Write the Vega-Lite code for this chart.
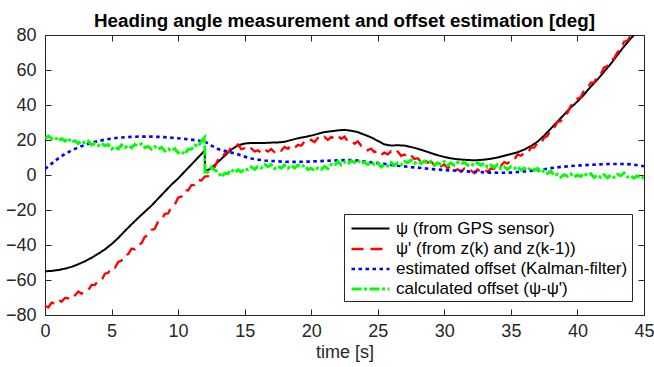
{
"$schema": "https://vega.github.io/schema/vega-lite/v6.json",
"width": 599, "height": 280,
"autosize": {"type": "none"},
"padding": {"left": 45, "top": 35, "right": 10, "bottom": 52},
"background": "white",
"config": {"view": {"stroke": null}, "font": "Liberation Sans"},
"title": {"text": "Heading angle measurement and offset estimation [deg]", "fontSize": 18.8, "fontWeight": "bold", "color": "#000000", "font": "Liberation Sans", "offset": -9, "anchor": "middle"},
"data": {"values": [
{"s":"a","t":0,"v":-55},{"s":"a","t":0.5,"v":-54.8},{"s":"a","t":1,"v":-54.3},{"s":"a","t":1.5,"v":-53.5},{"s":"a","t":2,"v":-52.5},{"s":"a","t":2.5,"v":-51},{"s":"a","t":3,"v":-49.3},{"s":"a","t":3.5,"v":-47.3},{"s":"a","t":4,"v":-45},{"s":"a","t":4.5,"v":-42.5},{"s":"a","t":5,"v":-39.5},{"s":"a","t":5.5,"v":-36},{"s":"a","t":6,"v":-32},{"s":"a","t":6.5,"v":-28.2},{"s":"a","t":7,"v":-24.5},{"s":"a","t":7.5,"v":-21},{"s":"a","t":8,"v":-17.5},{"s":"a","t":8.5,"v":-13.5},{"s":"a","t":9,"v":-9.5},{"s":"a","t":9.5,"v":-5.5},{"s":"a","t":10,"v":-2},{"s":"a","t":10.5,"v":2},{"s":"a","t":11,"v":6},{"s":"a","t":11.5,"v":10},{"s":"a","t":12,"v":14},{"s":"a","t":12.02,"v":2},{"s":"a","t":12.5,"v":4},{"s":"a","t":13,"v":7.5},{"s":"a","t":13.5,"v":11},{"s":"a","t":14,"v":14.5},{"s":"a","t":14.5,"v":17},{"s":"a","t":15,"v":18},{"s":"a","t":15.5,"v":18.3},{"s":"a","t":16,"v":18.3},{"s":"a","t":16.5,"v":18.3},{"s":"a","t":17,"v":18.5},{"s":"a","t":17.5,"v":18.6},{"s":"a","t":18,"v":19},{"s":"a","t":18.5,"v":20},{"s":"a","t":19,"v":21},{"s":"a","t":19.5,"v":21.7},{"s":"a","t":20,"v":22.5},{"s":"a","t":20.5,"v":23.5},{"s":"a","t":21,"v":24.5},{"s":"a","t":21.5,"v":25},{"s":"a","t":22,"v":25.5},{"s":"a","t":22.5,"v":25.8},{"s":"a","t":23,"v":25.3},{"s":"a","t":23.5,"v":24.5},{"s":"a","t":24,"v":23},{"s":"a","t":24.5,"v":21.5},{"s":"a","t":25,"v":19.5},{"s":"a","t":25.5,"v":17.5},{"s":"a","t":26,"v":16.8},{"s":"a","t":26.5,"v":17},{"s":"a","t":27,"v":16.8},{"s":"a","t":27.5,"v":16},{"s":"a","t":28,"v":15},{"s":"a","t":28.5,"v":13.8},{"s":"a","t":29,"v":12.5},{"s":"a","t":29.5,"v":11.3},{"s":"a","t":30,"v":10.3},{"s":"a","t":30.5,"v":9.5},{"s":"a","t":31,"v":9},{"s":"a","t":31.5,"v":8.7},{"s":"a","t":32,"v":8.5},{"s":"a","t":32.5,"v":8.5},{"s":"a","t":33,"v":8.8},{"s":"a","t":33.5,"v":9.3},{"s":"a","t":34,"v":10},{"s":"a","t":34.5,"v":11},{"s":"a","t":35,"v":12},{"s":"a","t":35.5,"v":13},{"s":"a","t":36,"v":14.5},{"s":"a","t":36.5,"v":16.5},{"s":"a","t":37,"v":19},{"s":"a","t":37.5,"v":22.5},{"s":"a","t":38,"v":26.5},{"s":"a","t":38.5,"v":30.5},{"s":"a","t":39,"v":34.5},{"s":"a","t":39.5,"v":38.5},{"s":"a","t":40,"v":42},{"s":"a","t":40.5,"v":46},{"s":"a","t":41,"v":50.5},{"s":"a","t":41.5,"v":54.5},{"s":"a","t":42,"v":59},{"s":"a","t":42.5,"v":63.5},{"s":"a","t":43,"v":68.5},{"s":"a","t":43.5,"v":73.5},{"s":"a","t":44,"v":78},{"s":"a","t":44.5,"v":82},{"s":"a","t":45,"v":86},
{"s":"b","t":0,"v":-74.9},{"s":"b","t":0.25,"v":-75.6},{"s":"b","t":0.5,"v":-72.9},{"s":"b","t":0.75,"v":-73.4},{"s":"b","t":1,"v":-71.2},{"s":"b","t":1.25,"v":-72.4},{"s":"b","t":1.5,"v":-70.2},{"s":"b","t":1.75,"v":-70.4},{"s":"b","t":2,"v":-68},{"s":"b","t":2.25,"v":-68.8},{"s":"b","t":2.5,"v":-66.6},{"s":"b","t":2.75,"v":-67.8},{"s":"b","t":3,"v":-65.8},{"s":"b","t":3.25,"v":-65.8},{"s":"b","t":3.5,"v":-62.8},{"s":"b","t":3.75,"v":-62.8},{"s":"b","t":4,"v":-60.4},{"s":"b","t":4.25,"v":-60.2},{"s":"b","t":4.5,"v":-56.4},{"s":"b","t":4.75,"v":-55.9},{"s":"b","t":5,"v":-52.7},{"s":"b","t":5.25,"v":-53},{"s":"b","t":5.5,"v":-49.7},{"s":"b","t":5.75,"v":-48.9},{"s":"b","t":6,"v":-45.5},{"s":"b","t":6.25,"v":-45.3},{"s":"b","t":6.5,"v":-42.1},{"s":"b","t":6.75,"v":-42.5},{"s":"b","t":7,"v":-39.8},{"s":"b","t":7.25,"v":-39},{"s":"b","t":7.5,"v":-35.3},{"s":"b","t":7.75,"v":-34.6},{"s":"b","t":8,"v":-31.4},{"s":"b","t":8.25,"v":-30.7},{"s":"b","t":8.5,"v":-26.4},{"s":"b","t":8.75,"v":-25.7},{"s":"b","t":9,"v":-22.2},{"s":"b","t":9.25,"v":-22},{"s":"b","t":9.5,"v":-18.2},{"s":"b","t":9.75,"v":-17},{"s":"b","t":10,"v":-13},{"s":"b","t":10.25,"v":-12.3},{"s":"b","t":10.5,"v":-8.6},{"s":"b","t":10.75,"v":-8.8},{"s":"b","t":11,"v":-5.8},{"s":"b","t":11.25,"v":-5.8},{"s":"b","t":11.5,"v":-2.8},{"s":"b","t":11.75,"v":-3.1},{"s":"b","t":12,"v":-0.9},{"s":"b","t":12.25,"v":-0.7},{"s":"b","t":12.5,"v":3.1},{"s":"b","t":12.75,"v":4.6},{"s":"b","t":13,"v":8.8},{"s":"b","t":13.25,"v":8.8},{"s":"b","t":13.5,"v":12.3},{"s":"b","t":13.75,"v":12.8},{"s":"b","t":14,"v":16},{"s":"b","t":14.25,"v":15.3},{"s":"b","t":14.5,"v":17.4},{"s":"b","t":14.75,"v":14.8},{"s":"b","t":15,"v":15.2},{"s":"b","t":15.25,"v":13.7},{"s":"b","t":15.5,"v":15.2},{"s":"b","t":15.75,"v":13.5},{"s":"b","t":16,"v":14.1},{"s":"b","t":16.25,"v":12.6},{"s":"b","t":16.5,"v":14.6},{"s":"b","t":16.75,"v":13.4},{"s":"b","t":17,"v":14.8},{"s":"b","t":17.25,"v":13},{"s":"b","t":17.5,"v":14.8},{"s":"b","t":17.75,"v":14},{"s":"b","t":18,"v":16},{"s":"b","t":18.25,"v":15},{"s":"b","t":18.5,"v":16.9},{"s":"b","t":18.75,"v":15.5},{"s":"b","t":19,"v":17.2},{"s":"b","t":19.25,"v":16.7},{"s":"b","t":19.5,"v":19.2},{"s":"b","t":19.75,"v":18.4},{"s":"b","t":20,"v":20.1},{"s":"b","t":20.25,"v":18.8},{"s":"b","t":20.5,"v":21.1},{"s":"b","t":20.75,"v":20.1},{"s":"b","t":21,"v":21.8},{"s":"b","t":21.25,"v":20},{"s":"b","t":21.5,"v":21.8},{"s":"b","t":21.75,"v":20.8},{"s":"b","t":22,"v":22.5},{"s":"b","t":22.25,"v":20.7},{"s":"b","t":22.5,"v":21.9},{"s":"b","t":22.75,"v":19.2},{"s":"b","t":23,"v":19.7},{"s":"b","t":23.25,"v":17.9},{"s":"b","t":23.5,"v":19.2},{"s":"b","t":23.75,"v":16.7},{"s":"b","t":24,"v":16.6},{"s":"b","t":24.25,"v":14.1},{"s":"b","t":24.5,"v":15.1},{"s":"b","t":24.75,"v":13.1},{"s":"b","t":25,"v":13.8},{"s":"b","t":25.25,"v":11.5},{"s":"b","t":25.5,"v":12.8},{"s":"b","t":25.75,"v":11.8},{"s":"b","t":26,"v":13.5},{"s":"b","t":26.25,"v":12},{"s":"b","t":26.5,"v":13.4},{"s":"b","t":26.75,"v":11},{"s":"b","t":27,"v":11.7},{"s":"b","t":27.25,"v":9.9},{"s":"b","t":27.5,"v":11.2},{"s":"b","t":27.75,"v":9.2},{"s":"b","t":28,"v":9.6},{"s":"b","t":28.25,"v":7.6},{"s":"b","t":28.5,"v":9.1},{"s":"b","t":28.75,"v":7.1},{"s":"b","t":29,"v":7.8},{"s":"b","t":29.25,"v":5.5},{"s":"b","t":29.5,"v":6.6},{"s":"b","t":29.75,"v":5},{"s":"b","t":30,"v":6},{"s":"b","t":30.25,"v":4},{"s":"b","t":30.5,"v":4.9},{"s":"b","t":30.75,"v":2.5},{"s":"b","t":31,"v":3.2},{"s":"b","t":31.25,"v":2},{"s":"b","t":31.5,"v":3.7},{"s":"b","t":31.75,"v":2},{"s":"b","t":32,"v":2.6},{"s":"b","t":32.25,"v":1.1},{"s":"b","t":32.5,"v":3.1},{"s":"b","t":32.75,"v":1.9},{"s":"b","t":33,"v":3.3},{"s":"b","t":33.25,"v":1.8},{"s":"b","t":33.5,"v":3.8},{"s":"b","t":33.75,"v":3.6},{"s":"b","t":34,"v":6},{"s":"b","t":34.25,"v":5.3},{"s":"b","t":34.5,"v":7.4},{"s":"b","t":34.75,"v":6.5},{"s":"b","t":35,"v":8.7},{"s":"b","t":35.25,"v":8.7},{"s":"b","t":35.5,"v":11.7},{"s":"b","t":35.75,"v":11},{"s":"b","t":36,"v":12.6},{"s":"b","t":36.25,"v":12.4},{"s":"b","t":36.5,"v":15.6},{"s":"b","t":36.75,"v":15.6},{"s":"b","t":37,"v":18.3},{"s":"b","t":37.25,"v":18},{"s":"b","t":37.5,"v":21.3},{"s":"b","t":37.75,"v":22.3},{"s":"b","t":38,"v":26},{"s":"b","t":38.25,"v":26.8},{"s":"b","t":38.5,"v":30.4},{"s":"b","t":38.75,"v":30.8},{"s":"b","t":39,"v":34.2},{"s":"b","t":39.25,"v":35.5},{"s":"b","t":39.5,"v":39.7},{"s":"b","t":39.75,"v":40.5},{"s":"b","t":40,"v":43.6},{"s":"b","t":40.25,"v":44.4},{"s":"b","t":40.5,"v":48.6},{"s":"b","t":40.75,"v":49.4},{"s":"b","t":41,"v":52.8},{"s":"b","t":41.25,"v":52.8},{"s":"b","t":41.5,"v":56.3},{"s":"b","t":41.75,"v":57.6},{"s":"b","t":42,"v":61.5},{"s":"b","t":42.25,"v":62.3},{"s":"b","t":42.5,"v":65.9},{"s":"b","t":42.75,"v":66.5},{"s":"b","t":43,"v":70.2},{"s":"b","t":43.25,"v":71.7},{"s":"b","t":43.5,"v":76.2},{"s":"b","t":43.75,"v":76.7},{"s":"b","t":44,"v":79.6},{"s":"b","t":44.25,"v":80.1},{"s":"b","t":44.5,"v":84.1},{"s":"b","t":44.75,"v":84.6},{"s":"b","t":45,"v":87.8},
{"s":"c","t":0,"v":3.5},{"s":"c","t":0.5,"v":6.5},{"s":"c","t":1,"v":9.5},{"s":"c","t":1.5,"v":12},{"s":"c","t":2,"v":14},{"s":"c","t":2.5,"v":15.8},{"s":"c","t":3,"v":17.2},{"s":"c","t":3.5,"v":18.4},{"s":"c","t":4,"v":19.4},{"s":"c","t":4.5,"v":20.2},{"s":"c","t":5,"v":20.8},{"s":"c","t":5.5,"v":21.3},{"s":"c","t":6,"v":21.6},{"s":"c","t":6.5,"v":21.8},{"s":"c","t":7,"v":21.9},{"s":"c","t":7.5,"v":21.9},{"s":"c","t":8,"v":21.9},{"s":"c","t":8.5,"v":21.8},{"s":"c","t":9,"v":21.6},{"s":"c","t":9.5,"v":21.3},{"s":"c","t":10,"v":21},{"s":"c","t":10.5,"v":20.6},{"s":"c","t":11,"v":20.2},{"s":"c","t":11.5,"v":19.7},{"s":"c","t":12,"v":19.2},{"s":"c","t":12.5,"v":16.8},{"s":"c","t":13,"v":14.8},{"s":"c","t":13.5,"v":13.8},{"s":"c","t":14,"v":12.8},{"s":"c","t":14.5,"v":11.8},{"s":"c","t":15,"v":10.5},{"s":"c","t":15.5,"v":9.4},{"s":"c","t":16,"v":8.8},{"s":"c","t":16.5,"v":8.3},{"s":"c","t":17,"v":8},{"s":"c","t":17.5,"v":7.8},{"s":"c","t":18,"v":7.6},{"s":"c","t":18.5,"v":7.5},{"s":"c","t":19,"v":7.5},{"s":"c","t":19.5,"v":7.6},{"s":"c","t":20,"v":7.7},{"s":"c","t":20.5,"v":7.9},{"s":"c","t":21,"v":8.1},{"s":"c","t":21.5,"v":8.2},{"s":"c","t":22,"v":8.4},{"s":"c","t":22.5,"v":8.5},{"s":"c","t":23,"v":8.5},{"s":"c","t":23.5,"v":8.2},{"s":"c","t":24,"v":7.7},{"s":"c","t":24.5,"v":7.2},{"s":"c","t":25,"v":6.8},{"s":"c","t":25.5,"v":6.4},{"s":"c","t":26,"v":5.8},{"s":"c","t":26.5,"v":5.3},{"s":"c","t":27,"v":4.9},{"s":"c","t":27.5,"v":4.5},{"s":"c","t":28,"v":4.2},{"s":"c","t":28.5,"v":3.8},{"s":"c","t":29,"v":3.4},{"s":"c","t":29.5,"v":3.1},{"s":"c","t":30,"v":2.8},{"s":"c","t":30.5,"v":2.6},{"s":"c","t":31,"v":2.4},{"s":"c","t":31.5,"v":2.1},{"s":"c","t":32,"v":1.9},{"s":"c","t":32.5,"v":1.7},{"s":"c","t":33,"v":1.5},{"s":"c","t":33.5,"v":1.4},{"s":"c","t":34,"v":1.3},{"s":"c","t":34.5,"v":1.3},{"s":"c","t":35,"v":1.4},{"s":"c","t":35.5,"v":1.7},{"s":"c","t":36,"v":2},{"s":"c","t":36.5,"v":2.4},{"s":"c","t":37,"v":2.8},{"s":"c","t":37.5,"v":3.3},{"s":"c","t":38,"v":3.9},{"s":"c","t":38.5,"v":4.4},{"s":"c","t":39,"v":4.8},{"s":"c","t":39.5,"v":5.1},{"s":"c","t":40,"v":5.4},{"s":"c","t":40.5,"v":5.6},{"s":"c","t":41,"v":5.8},{"s":"c","t":41.5,"v":6},{"s":"c","t":42,"v":6.2},{"s":"c","t":42.5,"v":6.3},{"s":"c","t":43,"v":6.3},{"s":"c","t":43.5,"v":6.3},{"s":"c","t":44,"v":6.1},{"s":"c","t":44.5,"v":5.6},{"s":"c","t":45,"v":5},
{"s":"d","t":0,"v":20.8},{"s":"d","t":0.25,"v":22.2},{"s":"d","t":0.5,"v":20.7},{"s":"d","t":0.75,"v":21.6},{"s":"d","t":1,"v":19.4},{"s":"d","t":1.25,"v":20.8},{"s":"d","t":1.5,"v":19.4},{"s":"d","t":1.75,"v":21},{"s":"d","t":2,"v":18.6},{"s":"d","t":2.25,"v":19.6},{"s":"d","t":2.5,"v":18},{"s":"d","t":2.75,"v":19.4},{"s":"d","t":3,"v":18.3},{"s":"d","t":3.25,"v":19.3},{"s":"d","t":3.5,"v":17.2},{"s":"d","t":3.75,"v":18},{"s":"d","t":4,"v":16.8},{"s":"d","t":4.25,"v":18.2},{"s":"d","t":4.5,"v":16.7},{"s":"d","t":4.75,"v":17.4},{"s":"d","t":5,"v":14.9},{"s":"d","t":5.25,"v":16.2},{"s":"d","t":5.5,"v":14.9},{"s":"d","t":5.75,"v":17.2},{"s":"d","t":6,"v":15.6},{"s":"d","t":6.25,"v":16.9},{"s":"d","t":6.5,"v":15.5},{"s":"d","t":6.75,"v":17.4},{"s":"d","t":7,"v":16.8},{"s":"d","t":7.25,"v":17.8},{"s":"d","t":7.5,"v":15.7},{"s":"d","t":7.75,"v":16.3},{"s":"d","t":8,"v":14.8},{"s":"d","t":8.25,"v":16.2},{"s":"d","t":8.5,"v":14.7},{"s":"d","t":8.75,"v":15.8},{"s":"d","t":9,"v":13.7},{"s":"d","t":9.25,"v":15},{"s":"d","t":9.5,"v":13.7},{"s":"d","t":9.75,"v":15.1},{"s":"d","t":10,"v":12.6},{"s":"d","t":10.25,"v":13.5},{"s":"d","t":10.5,"v":11.8},{"s":"d","t":10.75,"v":14.6},{"s":"d","t":11,"v":14.8},{"s":"d","t":11.25,"v":17.1},{"s":"d","t":11.5,"v":16.2},{"s":"d","t":11.75,"v":19.3},{"s":"d","t":12,"v":21.5},{"s":"d","t":12.02,"v":0.5},{"s":"d","t":12.25,"v":1.8},{"s":"d","t":12.5,"v":4.5},{"s":"d","t":12.75,"v":2.7},{"s":"d","t":13,"v":1.9},{"s":"d","t":13.25,"v":-1.1},{"s":"d","t":13.5,"v":1},{"s":"d","t":13.75,"v":0.9},{"s":"d","t":14,"v":3.2},{"s":"d","t":14.25,"v":1.4},{"s":"d","t":14.5,"v":2.9},{"s":"d","t":14.75,"v":1.8},{"s":"d","t":15,"v":3.7},{"s":"d","t":15.25,"v":3},{"s":"d","t":15.5,"v":4.6},{"s":"d","t":15.75,"v":3.2},{"s":"d","t":16,"v":4.8},{"s":"d","t":16.25,"v":4},{"s":"d","t":16.5,"v":6},{"s":"d","t":16.75,"v":4.7},{"s":"d","t":17,"v":5.9},{"s":"d","t":17.25,"v":3.6},{"s":"d","t":17.5,"v":5},{"s":"d","t":17.75,"v":3.9},{"s":"d","t":18,"v":5.7},{"s":"d","t":18.25,"v":3.8},{"s":"d","t":18.5,"v":5.4},{"s":"d","t":18.75,"v":4},{"s":"d","t":19,"v":5.7},{"s":"d","t":19.25,"v":4.5},{"s":"d","t":19.5,"v":5.6},{"s":"d","t":19.75,"v":3.2},{"s":"d","t":20,"v":3.8},{"s":"d","t":20.25,"v":2.5},{"s":"d","t":20.5,"v":4},{"s":"d","t":20.75,"v":3.2},{"s":"d","t":21,"v":4.9},{"s":"d","t":21.25,"v":3.6},{"s":"d","t":21.5,"v":6},{"s":"d","t":21.75,"v":5.4},{"s":"d","t":22,"v":7.7},{"s":"d","t":22.25,"v":5.8},{"s":"d","t":22.5,"v":7.4},{"s":"d","t":22.75,"v":6.2},{"s":"d","t":23,"v":8.2},{"s":"d","t":23.25,"v":7.2},{"s":"d","t":23.5,"v":8.4},{"s":"d","t":23.75,"v":6.4},{"s":"d","t":24,"v":7.3},{"s":"d","t":24.25,"v":6},{"s":"d","t":24.5,"v":7.5},{"s":"d","t":24.75,"v":6},{"s":"d","t":25,"v":6.9},{"s":"d","t":25.25,"v":4.6},{"s":"d","t":25.5,"v":6},{"s":"d","t":25.75,"v":5.2},{"s":"d","t":26,"v":7.2},{"s":"d","t":26.25,"v":5.4},{"s":"d","t":26.5,"v":6.9},{"s":"d","t":26.75,"v":5.8},{"s":"d","t":27,"v":7.7},{"s":"d","t":27.25,"v":7},{"s":"d","t":27.5,"v":8.6},{"s":"d","t":27.75,"v":6.7},{"s":"d","t":28,"v":7.8},{"s":"d","t":28.25,"v":6.6},{"s":"d","t":28.5,"v":8},{"s":"d","t":28.75,"v":6.6},{"s":"d","t":29,"v":7.7},{"s":"d","t":29.25,"v":5.6},{"s":"d","t":29.5,"v":7},{"s":"d","t":29.75,"v":5.9},{"s":"d","t":30,"v":7.7},{"s":"d","t":30.25,"v":5.6},{"s":"d","t":30.5,"v":6.9},{"s":"d","t":30.75,"v":5.5},{"s":"d","t":31,"v":7.2},{"s":"d","t":31.25,"v":6.2},{"s":"d","t":31.5,"v":7.4},{"s":"d","t":31.75,"v":5.5},{"s":"d","t":32,"v":6.5},{"s":"d","t":32.25,"v":5.4},{"s":"d","t":32.5,"v":7},{"s":"d","t":32.75,"v":5.6},{"s":"d","t":33,"v":6.7},{"s":"d","t":33.25,"v":4.4},{"s":"d","t":33.5,"v":5.7},{"s":"d","t":33.75,"v":4.4},{"s":"d","t":34,"v":5.9},{"s":"d","t":34.25,"v":3.6},{"s":"d","t":34.5,"v":4.7},{"s":"d","t":34.75,"v":3.2},{"s":"d","t":35,"v":4.7},{"s":"d","t":35.25,"v":3.7},{"s":"d","t":35.5,"v":4.9},{"s":"d","t":35.75,"v":2.8},{"s":"d","t":36,"v":3.8},{"s":"d","t":36.25,"v":2.6},{"s":"d","t":36.5,"v":4.2},{"s":"d","t":36.75,"v":2.7},{"s":"d","t":37,"v":3.7},{"s":"d","t":37.25,"v":1.3},{"s":"d","t":37.5,"v":2.5},{"s":"d","t":37.75,"v":0.9},{"s":"d","t":38,"v":2.2},{"s":"d","t":38.25,"v":-0.4},{"s":"d","t":38.5,"v":0.4},{"s":"d","t":38.75,"v":-1.2},{"s":"d","t":39,"v":0.2},{"s":"d","t":39.25,"v":-0.7},{"s":"d","t":39.5,"v":0.6},{"s":"d","t":39.75,"v":-1.2},{"s":"d","t":40,"v":0},{"s":"d","t":40.25,"v":-0.8},{"s":"d","t":40.5,"v":1},{"s":"d","t":40.75,"v":-0.4},{"s":"d","t":41,"v":0.7},{"s":"d","t":41.25,"v":-1.4},{"s":"d","t":41.5,"v":0},{"s":"d","t":41.75,"v":-1.4},{"s":"d","t":42,"v":0.2},{"s":"d","t":42.25,"v":-1.6},{"s":"d","t":42.5,"v":-0.1},{"s":"d","t":42.75,"v":-1.4},{"s":"d","t":43,"v":0.4},{"s":"d","t":43.25,"v":-0.4},{"s":"d","t":43.5,"v":1.1},{"s":"d","t":43.75,"v":-1.2},{"s":"d","t":44,"v":-0.5},{"s":"d","t":44.25,"v":-1.8},{"s":"d","t":44.5,"v":-0.5},{"s":"d","t":44.75,"v":-2},{"s":"d","t":45,"v":-1.1}
]},
"layer": [
{"mark": {"type": "line", "clip": true, "strokeCap": "butt", "strokeJoin": "miter"},
 "encoding": {
  "x": {"field": "t", "type": "quantitative", "scale": {"domain": [0, 45], "nice": false, "zero": false},
        "axis": {"orient": "bottom", "values": [0,5,10,15,20,25,30,35,40,45], "title": "time [s]", "tickSize": -6, "labelPadding": 13, "labelFontSize": 18, "labelFont": "Liberation Sans", "titleFont": "Liberation Sans", "titleFontSize": 18, "titleFontWeight": "normal", "labelColor": "#262626", "titleColor": "#262626", "domainColor": "#262626", "tickColor": "#262626", "grid": false, "labelFlush": false, "labelOverlap": false, "titlePadding": 3}},
  "y": {"field": "v", "type": "quantitative", "scale": {"domain": [-80, 80], "nice": false, "zero": false},
        "axis": {"orient": "left", "values": [-80,-60,-40,-20,0,20,40,60,80], "title": null, "tickSize": -6, "labelPadding": 15, "labelFontSize": 18, "labelFont": "Liberation Sans", "labelColor": "#262626", "domainColor": "#262626", "tickColor": "#262626", "grid": false, "labelOverlap": false}},
  "color": {"field": "s", "type": "nominal", "scale": {"domain": ["a","b","c","d"], "range": ["#000000", "#ff0000", "#0000ff", "#00ff00"]},
        "legend": {"title": null, "orient": "none", "legendX": 299, "legendY": 179, "symbolType": "M-2,0H2", "symbolSize": 361, "symbolOffset": 11.5, "labelFontSize": 17, "labelFont": "Liberation Sans", "labelColor": "#000000", "labelLimit": 400, "strokeColor": "#262626", "fillColor": "white", "padding": 4, "rowPadding": 1, "labelOffset": 14.5,
          "labelExpr": "datum.label == 'a' ? 'ψ (from GPS sensor)' : datum.label == 'b' ? \"ψ' (from z(k) and z(k-1))\" : datum.label == 'c' ? 'estimated offset (Kalman-filter)' : \"calculated offset (ψ-ψ')\""}},
  "strokeDash": {"field": "s", "type": "nominal", "scale": {"domain": ["a","b","c","d"], "range": [[1,0],[12,7],[3.5,3.5],[10,2.5,3,2.5]]}},
  "strokeWidth": {"field": "s", "type": "nominal", "scale": {"domain": ["a","b","c","d"], "range": [2,3,4,3.5]}}
 }},
{"mark": {"type": "line", "opacity": 0},
 "encoding": {
  "x": {"field": "t", "type": "quantitative", "axis": {"orient": "top", "values": [0,5,10,15,20,25,30,35,40,45], "labels": false, "title": null, "tickSize": -6, "domainColor": "#262626", "tickColor": "#262626", "grid": false}},
  "y": {"field": "v", "type": "quantitative", "axis": {"orient": "right", "values": [-80,-60,-40,-20,0,20,40,60,80], "labels": false, "title": null, "tickSize": -6, "domainColor": "#262626", "tickColor": "#262626", "grid": false}},
  "detail": {"field": "s", "type": "nominal"}
 }}
],
"resolve": {"axis": {"x": "independent", "y": "independent"}}
}
